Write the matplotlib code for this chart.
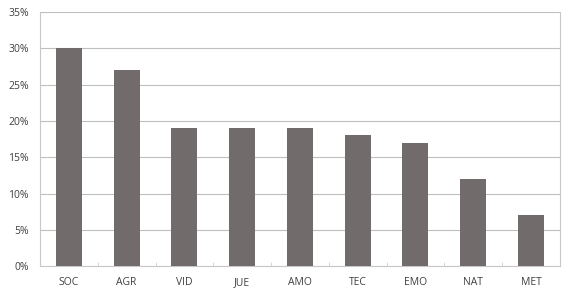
import matplotlib
matplotlib.use('Agg')
import matplotlib.pyplot as plt
import numpy as np

plt.rcParams['font.family'] = ['Open Sans', 'DejaVu Sans']

categories = ['SOC', 'AGR', 'VID', 'JUE', 'AMO', 'TEC', 'EMO', 'NAT', 'MET']
values = [30, 27, 19, 19, 19, 18, 17, 12, 7]
yticks = [0, 5, 10, 15, 20, 25, 30, 35]

fig = plt.figure(figsize=(5.67, 2.95), dpi=100)
ax = fig.add_axes([0.0705, 0.098, 0.917, 0.861])

x = np.arange(len(categories))
ax.bar(x, values, width=0.45, color='#726b6b', zorder=3)

ax.set_xlim(-0.5, len(categories) - 0.5)
ax.set_ylim(0, 35)
ax.set_yticks(yticks)
ax.set_yticklabels(['{}%'.format(v) for v in yticks])
ax.set_xticks(x)
ax.set_xticklabels(categories)
ax.yaxis.grid(True, color='#bfbfbf', linewidth=0.8, zorder=0)

# small tick marks between categories
ax.set_xticks(np.arange(len(categories) + 1) - 0.5, minor=True)
ax.tick_params(axis='x', which='minor', length=3, color='#d0d0d0', direction='in')
ax.tick_params(axis='x', which='major', length=0, labelsize=7.5, colors='#404040', pad=8)
ax.tick_params(axis='y', length=0, labelsize=7.5, colors='#404040', pad=8)

for side in ['left', 'right', 'bottom']:
    ax.spines[side].set_color('#c8c8c8')
    ax.spines[side].set_linewidth(0.8)
ax.spines['top'].set_visible(False)

plt.savefig('out.png', dpi=100)
